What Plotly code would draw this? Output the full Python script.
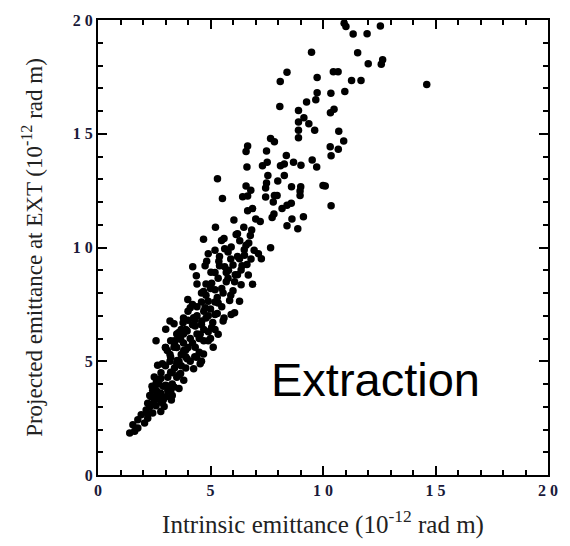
import plotly.graph_objects as go

# Measured pairs: intrinsic emittance (x) vs projected emittance at EXT (y), units 1e-12 rad m
intrinsic = [
    10.94, 11.02, 11.34, 11.96, 12.55, 9.49, 11.54, 12.01, 12.59, 12.65,
    9.74, 10.46, 10.67, 11.27, 11.69, 14.61, 9.74, 9.68, 9.27, 10.35,
    10.97, 10.49, 10.33, 8.91, 9.15, 9.37, 8.91, 9.63, 10.70, 8.91,
    8.91, 10.92, 10.32, 10.68, 10.36, 9.52, 9.02, 9.72, 10.00, 10.10,
    9.01, 8.98, 8.98, 10.36, 9.13, 8.88, 8.40, 8.10,
    8.08, 7.67, 7.84, 6.65, 6.58, 7.49, 8.37, 6.62, 7.31, 7.52,
    8.11, 8.28, 8.69, 5.31, 7.55, 7.49, 7.99, 8.28, 7.45, 6.58,
    6.79, 6.43, 6.65, 5.53, 7.45, 7.96, 8.60, 6.65, 6.87, 7.01,
    7.21, 7.79, 7.84, 7.82, 8.18, 8.40, 8.59, 7.74, 8.62, 8.40,
    6.04, 5.22, 6.48, 6.83, 6.14, 6.77, 4.69, 5.49, 7.67, 6.58,
    5.92, 5.63, 5.20, 4.90, 5.78, 6.94, 7.13, 6.51, 6.29, 7.26,
    4.83, 5.37, 6.00, 4.76, 5.63, 6.62, 5.02, 6.36, 6.68, 5.34,
    5.78, 6.07, 6.36, 6.87, 5.05, 4.69, 5.20, 5.56, 5.85, 6.29,
    4.90, 5.34, 6.07, 5.92, 4.76, 5.20, 5.56, 5.05, 4.61, 5.34,
    4.90, 5.12, 4.54,
    4.21, 4.37, 3.99, 4.10, 3.20, 3.38, 3.01, 3.78, 3.59, 4.25,
    2.58, 3.23, 3.67, 3.96, 4.32, 3.38, 3.08, 3.81, 4.32,
    2.65, 2.86, 3.23, 3.52, 3.96, 4.39, 4.69, 4.54, 4.25, 2.50,
    2.79, 3.23, 3.67, 3.81, 2.58, 3.01, 3.38, 2.43, 2.79, 3.23,
    2.36, 2.65, 3.01, 3.26, 2.21, 2.58, 2.94, 2.14, 2.43, 2.79,
    1.92, 2.21, 1.77, 2.07, 1.55, 1.77, 1.41, 1.63,
    2.30, 2.50, 2.70, 2.90, 2.60, 2.80, 3.00, 3.10, 3.30, 3.50,
    3.40, 3.60, 3.20, 3.50, 4.60, 4.80, 5.00, 4.40, 4.60, 4.80,
    5.00, 5.20, 4.40, 4.70, 4.90, 5.10, 5.30, 5.50, 4.20, 4.50,
    4.00, 4.10, 3.90, 4.30, 4.00, 4.20, 3.80, 4.60, 4.10, 3.70,
    3.90, 3.10, 3.30, 3.60, 3.90, 2.90, 3.50, 3.80, 4.40, 5.70,
    6.00, 5.90, 6.20, 5.40, 5.60, 3.40, 3.70, 2.60, 3.00, 2.40,
    2.20, 2.40, 2.60, 2.80, 2.50, 2.70, 2.90, 2.30,
    3.10, 3.30, 3.50, 3.70, 3.20, 3.40, 3.60, 3.80, 3.00, 3.90, 3.60,
    4.30, 4.50, 4.70, 4.90, 4.40, 4.60, 4.80, 4.20, 4.00, 4.70, 5.00, 5.20,
    5.30, 5.50, 5.70, 5.20, 5.40, 5.80, 5.90, 5.60, 6.10, 6.20,
    6.30, 6.50, 6.70, 6.40, 6.80, 6.20,
]
projected = [
    19.86, 19.71, 19.38, 19.40, 19.74, 18.58, 18.56, 18.08, 18.05, 18.25,
    17.47, 17.73, 17.73, 17.34, 17.34, 17.17, 16.80, 16.49, 16.40, 16.78,
    16.86, 16.08, 15.92, 16.02, 15.70, 15.44, 15.52, 15.15, 15.11, 15.15,
    14.82, 14.68, 14.43, 14.32, 14.03, 13.85, 13.62, 13.54, 12.72, 12.70,
    12.67, 12.48, 12.29, 11.83, 11.35, 10.82, 17.70, 17.30,
    16.20, 14.79, 14.65, 14.46, 14.22, 14.24, 14.04, 13.54, 13.59, 13.75,
    13.59, 13.67, 13.75, 13.02, 13.16, 12.84, 12.92, 13.16, 12.62, 12.70,
    12.52, 12.23, 12.26, 12.15, 12.22, 12.29, 12.67, 11.61, 11.71, 11.25,
    11.14, 12.00, 12.29, 11.47, 11.71, 11.86, 11.94, 11.32, 11.25, 10.96,
    11.21, 10.89, 10.89, 10.77, 10.57, 10.53, 10.36, 10.31, 9.99, 10.10,
    10.02, 9.95, 9.88, 9.73, 9.80, 9.88, 9.73, 9.66, 9.51, 9.51,
    9.40, 9.40, 9.23, 9.20, 9.15, 9.25, 8.91, 9.01, 8.79, 8.65,
    8.65, 8.50, 8.36, 8.39, 8.43, 8.07, 8.14, 8.00, 7.67, 7.64,
    7.64, 7.56, 7.13, 7.06, 7.35, 7.06, 6.77, 6.48, 6.77, 6.19,
    5.90, 5.61, 6.19,
    9.15, 8.76, 7.71, 7.35, 6.77, 6.65, 6.41, 6.69, 6.26, 6.91,
    5.90, 5.90, 5.97, 6.33, 6.55, 5.61, 5.47, 5.47, 5.61,
    4.82, 4.89, 5.18, 5.03, 5.11, 5.18, 5.32, 4.89, 4.67, 4.31,
    4.24, 4.52, 4.46, 4.16, 4.02, 3.95, 3.87, 3.73, 3.59, 3.66,
    3.44, 3.37, 3.44, 3.30, 3.15, 3.04, 3.01, 2.86, 2.72, 2.79,
    2.65, 2.50, 2.43, 2.29, 2.21, 2.07, 1.85, 1.92,
    3.00, 3.30, 3.60, 3.90, 4.20, 4.50, 4.80, 4.30, 4.00, 4.30,
    4.70, 5.00, 5.30, 5.60, 7.60, 7.90, 8.20, 7.00, 6.60, 6.90,
    7.30, 7.60, 6.20, 5.90, 6.30, 6.70, 7.10, 7.40, 5.80, 5.40,
    5.60, 6.00, 6.40, 6.80, 7.20, 7.50, 5.80, 5.00, 5.00, 4.80,
    5.20, 3.70, 3.50, 3.80, 4.70, 3.30, 6.20, 6.90, 8.40, 8.90,
    8.10, 9.50, 8.80, 9.60, 10.40, 5.90, 6.40, 3.70, 5.60, 3.90,
    2.70, 3.10, 3.50, 3.20, 3.80, 4.00, 3.40, 3.50,
    3.90, 4.50, 4.90, 5.30, 5.00, 5.80, 6.00, 6.20, 5.60, 5.50, 4.40,
    5.20, 6.00, 6.40, 7.00, 7.40, 8.00, 8.40, 6.60, 6.80, 7.20, 6.00, 6.40,
    7.80, 8.20, 8.50, 8.90, 9.20, 9.00, 7.90, 6.90, 8.80, 9.60,
    10.30, 9.90, 10.20, 9.20, 9.50, 10.60,
]

tick_vals = [0, 5, 10, 15, 20]
tick_text = ["0", "5", "1 0", "1 5", "2 0"]

fig = go.Figure(
    go.Scatter(
        x=intrinsic,
        y=projected,
        mode="markers",
        marker=dict(size=7.5, color="black", line=dict(width=0)),
        cliponaxis=True,
        showlegend=False,
    )
)

axis_common = dict(
    range=[0, 20],
    tickvals=tick_vals,
    ticktext=tick_text,
    ticks="inside",
    ticklen=9,
    tickwidth=1.5,
    tickcolor="black",
    showline=True,
    linecolor="black",
    linewidth=2,
    mirror="allticks",
    showgrid=False,
    zeroline=False,
    tickfont=dict(family="Liberation Serif", size=16, color="#1a1a3a", weight="bold"),
    minor=dict(dtick=1, ticks="inside", ticklen=5, tickwidth=1.5, tickcolor="black", showgrid=False),
)

fig.update_xaxes(
    **axis_common,
    title=dict(
        text="Intrinsic emittance (10<sup>-12</sup> rad m)",
        font=dict(family="Liberation Serif", size=25, color="#222"),
        standoff=17,
    ),
)
fig.update_yaxes(
    **axis_common,
    title=dict(
        text="Projected emittance at EXT (10<sup>-12</sup> rad m)",
        font=dict(family="Liberation Serif", size=23, color="#222"),
        standoff=24,
    ),
)

fig.add_annotation(
    x=12.33,
    y=4.21,
    text="Extraction",
    showarrow=False,
    xanchor="center",
    yanchor="middle",
    font=dict(family="Liberation Sans", size=47, color="black"),
)

fig.update_layout(
    width=570,
    height=546,
    margin=dict(l=98, r=16, t=15, b=70),
    paper_bgcolor="white",
    plot_bgcolor="white",
)

fig.write_html("out.html")
